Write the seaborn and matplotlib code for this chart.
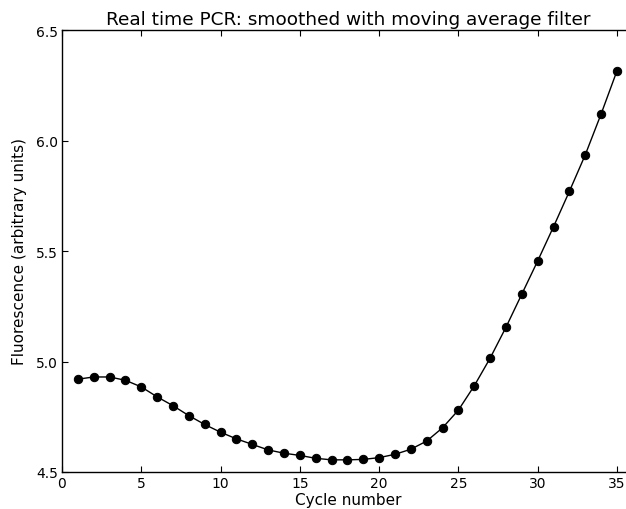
import matplotlib
matplotlib.use("Agg")
import matplotlib.pyplot as plt
import seaborn as sns
import pandas as pd

cycles = list(range(1, 36))
fluorescence = [4.92, 4.93, 4.93, 4.915, 4.885, 4.84, 4.80, 4.755, 4.715, 4.68,
                4.65, 4.625, 4.60, 4.585, 4.575, 4.562, 4.555, 4.555, 4.557, 4.565,
                4.58, 4.603, 4.64, 4.70, 4.78, 4.89, 5.015, 5.155, 5.305, 5.455,
                5.61, 5.77, 5.935, 6.12, 6.315]
xticks = [0, 5, 10, 15, 20, 25, 30, 35]
yticks = [4.5, 5.0, 5.5, 6.0, 6.5]

df = pd.DataFrame({"cycle": cycles, "fluor": fluorescence})

sns.set_style("ticks")
plt.rcParams['font.family'] = ['DejaVu Sans']
plt.rcParams['text.color'] = 'black'
plt.rcParams['axes.labelcolor'] = 'black'

fig = plt.figure(figsize=(6.26, 5.10), dpi=100)
ax = fig.add_axes([62/626, 37/510, 564/626, 442/510])
sns.lineplot(data=df, x="cycle", y="fluor", ax=ax, color="black", linewidth=1,
             marker="o", markersize=6, markeredgecolor="black")
ax.set_xlim(0, 35.57)
ax.set_ylim(4.5, 6.5)
ax.set_xticks(xticks)
ax.set_yticks(yticks)
ax.set_xticklabels([str(t) for t in xticks])
ax.set_yticklabels([f"{t:.1f}" for t in yticks])
ax.tick_params(direction="in", top=True, right=False, length=4, width=0.8,
               labelsize=10, colors="black", pad=3)
for s in ax.spines.values():
    s.set_color("black")
    s.set_linewidth(1)
ax.spines["right"].set_visible(False)
ax.set_xlabel("Cycle number", fontsize=11, labelpad=1, color="black")
ax.xaxis.label.set_x(0.507)
ax.set_ylabel("Fluorescence (arbitrary units)", fontsize=11, labelpad=6, color="black")
ax.set_title("Real time PCR: smoothed with moving average filter",
             fontsize=13.3, pad=4, color="black", x=0.507)
fig.savefig("out.png", dpi=100)
